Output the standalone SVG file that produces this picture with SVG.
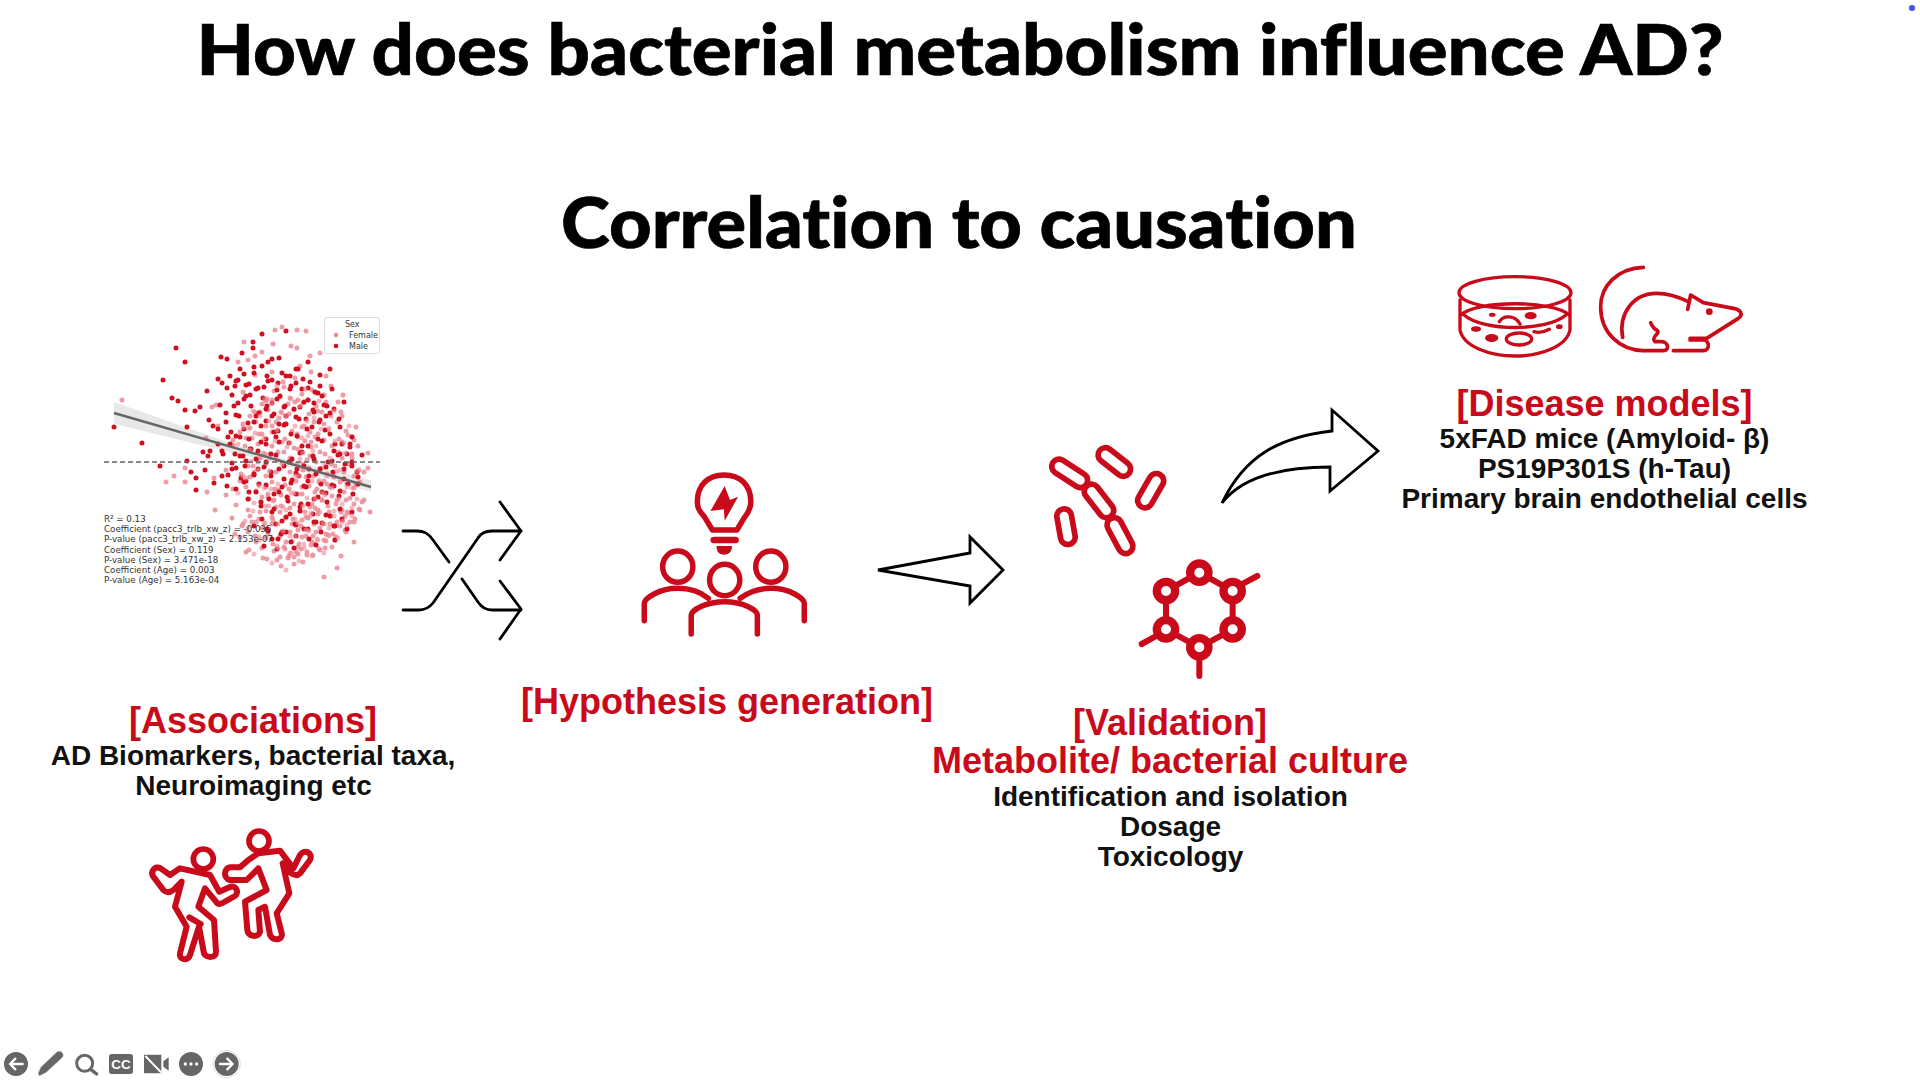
<svg xmlns="http://www.w3.org/2000/svg" width="1920" height="1080" viewBox="0 0 1920 1080">
<style>
text{font-family:"Liberation Sans",Arial,sans-serif;font-weight:700;text-anchor:middle}
.h{font-family:Lato,"Open Sans",sans-serif;font-size:71px;font-weight:900;fill:#000;stroke:#000;stroke-width:.7;font-variant-ligatures:none}
.r{font-size:36px;fill:#c90a1a}
.b{font-size:28px;fill:#111}
.s{font-family:"DejaVu Sans",sans-serif;font-weight:400;font-size:8.7px;fill:#333;text-anchor:start}
.l{font-family:"DejaVu Sans",sans-serif;font-weight:400;font-size:8px;fill:#333;text-anchor:start}
.i{fill:none;stroke:#c90a1a;stroke-linecap:round;stroke-linejoin:round}
.n{vector-effect:non-scaling-stroke;stroke-width:5.5px}
.k{fill:#fff;stroke:#000;stroke-width:2.8;stroke-linejoin:miter}
.o{fill:none;stroke:#000;stroke-width:2.8;stroke-linecap:round;stroke-linejoin:round}
.t{fill:#666}
.w{fill:none;stroke:#fff;stroke-linecap:round;stroke-linejoin:round}
.f{fill:none;stroke:#ea8c96;stroke-width:5;stroke-linecap:round;stroke-opacity:.85}
.m{fill:none;stroke:#cf1020;stroke-width:5;stroke-linecap:round}
</style>
<defs>
<path id="cf" class="f" d="M262,470h0M271,483h0M284,492h0M296,505h0M305,480h0M318,494h0M327,510h0M316,522h0M302,530h0M288,518h0M276,530h0M262,505h0M252,485h0M246,510h0M258,522h0M270,545h0M284,552h0M297,543h0M310,538h0M322,535h0M332,498h0M340,486h0M345,507h0M330,470h0M317,462h0M306,450h0M293,458h0M280,446h0M268,440h0M256,452h0M244,460h0M236,475h0M248,432h0M262,420h0M275,412h0M288,425h0M301,435h0M314,428h0M328,440h0M338,452h0M350,470h0M342,425h0M327,410h0M312,400h0M298,388h0M284,398h0M270,385h0M258,398h0M246,410h0M236,426h0M300,420h0M292,475h0M304,512h0M276,506h0M264,488h0M320,475h0M336,520h0M308,498h0M252,536h0M238,520h0M350,498h0M288,535h0"/>
<path id="cm" class="m" d="M262,440h0M270,428h0M282,420h0M293,432h0M304,442h0M316,416h0M326,430h0M338,440h0M247,445h0M236,452h0M226,440h0M240,425h0M252,412h0M263,402h0M276,392h0M290,405h0M304,396h0M318,392h0M330,405h0M242,392h0M254,384h0M268,376h0M282,372h0M294,365h0M306,378h0M230,402h0M222,418h0M250,470h0M262,458h0M275,465h0M288,455h0M300,462h0M312,470h0M324,458h0M336,450h0M348,458h0M240,478h0M252,488h0M265,495h0M278,483h0M292,490h0M304,500h0M318,488h0M330,482h0M344,480h0M258,515h0M272,520h0M286,510h0M300,525h0M312,518h0M326,512h0M338,515h0M268,535h0M282,528h0M295,472h0M270,410h0M232,464h0M218,472h0M214,440h0M258,362h0M240,370h0M226,372h0M310,408h0"/>
</defs>
<rect width="1920" height="1080" fill="#fff"/>
<circle cx="1912" cy="8" r="3" fill="#4a4ae8"/>
<g id="title"><text class="h" x="960" y="75" textLength="1527" lengthAdjust="spacingAndGlyphs">How does bacterial metabolism influence AD?</text>
<text class="h" x="959" y="248" textLength="796" lengthAdjust="spacingAndGlyphs">Correlation to causation</text></g>

<g id="scatter">
<path d="M114,402L250,450L371,480L371,492L280,464L114,424Z" fill="#e8e8e8"/>
<path class="f" d="M122,400h0M282,327h0M275,330h0M297,330h0M306,331h0M244,342h0M273,344h0M324,577h0M337,568h0M341,556h0M354,542h0M370,512h0M368,468h0M368,453h0M362,502h0M166,482h0M174,476h0M185,482h0M185,468h0M215,510h0M277,560h0M289,556h0M212,407h0M216,405h0M206,438h0M218,426h0M233,445h0M262,352h0M255,356h0M238,362h0M248,360h0M291,346h0M297,348h0M310,356h0M300,366h0M320,353h0M326,376h0M311,372h0M295,378h0M283,382h0M272,372h0M255,375h0M243,392h0M316,393h0M331,386h0M324,395h0M343,395h0M338,402h0M342,416h0M318,411h0M303,403h0M290,398h0M266,401h0M348,435h0M354,440h0M358,446h0M352,458h0M359,470h0M356,485h0M226,470h0M214,478h0M207,492h0M226,495h0M236,505h0M248,510h0M345,516h0M354,522h0M335,540h0M325,548h0M313,555h0M303,562h0M296,552h0M263,558h0M246,552h0M232,518h0M240,537h0M345,530h0M328,535h0"/>
<use href="#cf" x="4" y="6"/><use href="#cf" x="10" y="12"/><use href="#cf" x="-3" y="14"/><use href="#cf" x="14" y="2"/>
<path class="m" d="M114,427h0M142,443h0M160,466h0M176,348h0M185,362h0M163,380h0M172,398h0M178,401h0M185,410h0M195,411h0M200,407h0M207,391h0M187,427h0M187,461h0M191,472h0M196,478h0M262,334h0M286,331h0M253,342h0M330,369h0M221,357h0M227,359h0M242,353h0M253,348h0M268,362h0M279,358h0M218,379h0M227,388h0M238,380h0M246,385h0M296,383h0M308,388h0M320,386h0M213,426h0M203,452h0M208,456h0M196,490h0M205,470h0M209,420h0M220,405h0M232,395h0M358,484h0M350,444h0M352,466h0M335,540h0M316,545h0M294,548h0"/>
<use href="#cm" x="4" y="4"/><use href="#cm" x="-4" y="11"/><use href="#cm" x="9" y="14"/><use href="#cm" x="14" y="-3"/>
<use href="#cf" x="7" y="1" opacity=".7"/><use href="#cf" x="2" y="18" opacity=".7"/>
<path d="M114,413L371,487" stroke="#666" stroke-width="2.4"/>
<path d="M104,462H380" stroke="#666" stroke-width="1.5" stroke-dasharray="5 3" fill="none"/>
<rect x="324.500" y="317.500" width="55" height="36" rx="2" fill="#fff" fill-opacity=".85" stroke="#ddd"/>
<text class="l" x="345" y="327">Sex</text>
<circle cx="336" cy="335" r="2.3" fill="#ea8c96"/><text class="l" x="349" y="338">Female</text>
<circle cx="336" cy="346" r="2.3" fill="#cf1020"/><text class="l" x="349" y="349">Male</text>
<text class="s" x="104" y="522">R² = 0.13</text>
<text class="s" x="104" y="532">Coefficient (pacc3_trlb_xw_z) = -0.035</text>
<text class="s" x="104" y="542">P-value (pacc3_trlb_xw_z) = 2.153e-07</text>
<text class="s" x="104" y="553">Coefficient (Sex) = 0.119</text>
<text class="s" x="104" y="563">P-value (Sex) = 3.471e-18</text>
<text class="s" x="104" y="573">Coefficient (Age) = 0.003</text>
<text class="s" x="104" y="583">P-value (Age) = 5.163e-04</text>
</g>

<g id="connectors">
<path class="o" d="M403,531H417C424,531 428,533 433,540L449,562"/>
<path class="o" d="M403,610H419C425,610 429,608 433,603L478,538C481,533 486,531 492,531H521"/>
<path class="o" d="M462,579L478,602C482,608 486,610 492,610H521"/>
<path class="o" stroke-width="2.4" d="M500,502L521,531L500,560M500,581L521,609L500,639"/>
<path class="k" d="M878,570L970,553V537L1003,570L970,603V586Z"/>
<path class="k" d="M1222,503C1245,455 1280,437 1332,431V410L1378,451L1330,491V467C1290,467 1245,473 1222,503Z"/>
</g>

<g id="associations">
<text class="r" x="253" y="733">[Associations]</text>
<text class="b" x="253" y="765">AD Biomarkers, bacterial taxa,</text>
<text class="b" x="253.500" y="795">Neuroimaging etc</text>
<g transform="translate(130 810) scale(.33333)">
<circle class="i" cx="220" cy="147" r="30" stroke-width="17"/>
<circle class="i" cx="387" cy="93" r="30" stroke-width="17"/>
<path class="i" stroke-width="18" d="M150,175L120,195L92,175C75,165 60,185 70,200L100,240C110,250 120,248 130,240L155,215L135,290L170,350L150,430C145,450 175,455 180,435L207,350L222,430C228,445 260,445 258,425L252,330L205,290L225,235L258,275C265,285 275,282 285,275L315,258C330,245 315,222 298,232L268,245L240,195Z"/>
<path class="i" stroke-width="18" d="M178,322L212,342"/>
<path class="i" stroke-width="18" d="M355,150L385,130L450,122L490,175L510,135C525,115 550,130 540,150L510,190C500,200 490,195 480,188L458,160L478,250L440,310L455,370C460,390 430,395 420,375L405,290L385,300L390,365C385,385 355,380 352,360L345,275L410,240L385,175L350,210H300C280,205 280,175 300,172H330Z"/>
</g></g>

<g id="hypothesis">
<text class="r" x="727" y="714">[Hypothesis generation]</text>
<g transform="translate(390 450) scale(.40816 .33333)">
<path class="i n" d="M790,240L770,200C755,180 753,170 753,155C753,105 780,75 818,75C858,75 884,105 884,155C884,170 880,185 868,203L850,240Z"/>
<path d="M820,108L833,150L853,140L820,212L818,178L785,183Z" fill="#c90a1a"/>
<rect x="785" y="260" width="70" height="20" rx="10" fill="#c90a1a"/>
<path d="M800,288H838C838,305 830,314 818,314C806,314 800,305 800,288Z" fill="#c90a1a"/>
<ellipse class="i n" cx="705" cy="350" rx="37" ry="47"/>
<ellipse class="i n" cx="820" cy="390" rx="37" ry="47"/>
<ellipse class="i n" cx="933" cy="350" rx="37" ry="47"/>
<path class="i n" stroke-linecap="butt" d="M623,512V460C623,445 660,415 705,415C735,415 760,425 780,445"/>
<path class="i n" stroke-linecap="butt" d="M1015,512V460C1015,445 980,415 933,415C905,415 880,425 858,445"/>
<path class="i n" stroke-linecap="butt" d="M738,552V495C738,480 775,455 820,455C865,455 900,480 900,495V552"/>
</g></g>

<g id="validation">
<text class="r" x="1170" y="735">[Validation]</text>
<text class="r" x="1170" y="773">Metabolite/ bacterial culture</text>
<text class="b" x="1170.500" y="806">Identification and isolation</text>
<text class="b" x="1170.500" y="836">Dosage</text>
<text class="b" x="1170.500" y="866">Toxicology</text>
<g transform="translate(1030 420) scale(.33333)">
<g class="i" stroke-width="17">
<rect x="-60" y="-22" width="120" height="44" rx="22" transform="translate(119 160) rotate(33)"/>
<rect x="-56" y="-22" width="112" height="44" rx="22" transform="translate(253 126) rotate(38)"/>
<rect x="-56" y="-22" width="112" height="44" rx="22" transform="translate(362 212) rotate(-60)"/>
<rect x="-54" y="-22" width="108" height="44" rx="22" transform="translate(108 320) rotate(80)"/>
<rect x="-58" y="-22" width="116" height="44" rx="22" transform="translate(207 243) rotate(52)"/>
<rect x="-58" y="-22" width="116" height="44" rx="22" transform="translate(270 347) rotate(62)"/>
</g>
<g class="i">
<path stroke-width="18" d="M508,458L608,513V628L508,682L408,628V513Z"/>
<path stroke-width="18" d="M640,490L682,468M375,650L335,672M508,720V768"/>
<g stroke-width="25">
<circle cx="508" cy="458" r="27.500" fill="#fff"/><circle cx="608" cy="513" r="27.500" fill="#fff"/><circle cx="608" cy="628" r="27.500" fill="#fff"/><circle cx="508" cy="682" r="27.500" fill="#fff"/><circle cx="408" cy="628" r="27.500" fill="#fff"/><circle cx="408" cy="513" r="27.500" fill="#fff"/>
</g></g>
</g></g>

<g id="models">
<text class="r" x="1604.500" y="416">[Disease models]</text>
<text class="b" x="1604.500" y="448">5xFAD mice (Amyloid- β)</text>
<text class="b" x="1604.500" y="478">PS19P301S (h-Tau)</text>
<text class="b" x="1604.500" y="508">Primary brain endothelial cells</text>
<g transform="translate(1440 250) scale(.33333)">
<g class="i" stroke-width="10">
<ellipse cx="225" cy="128" rx="168" ry="48"/>
<path d="M62,195C110,150 340,150 388,195"/>
<path d="M72,195C130,245 320,245 378,195"/>
<path d="M60,150V240C70,290 150,318 225,318C300,318 380,290 390,240V150"/>
<path d="M178,215C190,195 225,195 240,222M282,245C300,250 315,245 328,238"/>
<ellipse cx="237" cy="267" rx="38" ry="18"/>
</g>
<g fill="#c90a1a"><ellipse cx="157" cy="194" rx="10" ry="6"/><ellipse cx="272" cy="197" rx="18" ry="11"/><ellipse cx="108" cy="237" rx="15" ry="8"/><ellipse cx="155" cy="264" rx="20" ry="12"/><ellipse cx="358" cy="230" rx="10" ry="7"/><circle cx="808" cy="185" r="10"/></g>
<path class="i" stroke-width="11" d="M610,52C530,55 482,110 482,170C482,250 540,300 610,302H670C690,302 685,275 665,275H645C630,260 665,250 650,240C640,235 635,225 632,218"/>
<path class="i" stroke-width="11" d="M548,262C535,190 580,130 650,130C680,130 715,140 745,155M743,178L752,135L790,158L880,175C905,180 910,195 895,205L800,265H750M750,270H790C810,272 810,302 790,302H700"/>
</g></g>

<g id="toolbar" transform="translate(0 1040) scale(.33333)">
<circle class="t" cx="48" cy="72" r="36"/><path class="w" stroke-width="7" d="M68,72H30M46,56L30,72L46,88"/>
<path class="t" stroke="#ddd" stroke-width="2" d="M114,100L122,82L170,36C176,32 184,32 188,40C192,46 190,50 186,54L138,98L118,108Z"/>
<circle cx="254" cy="70" r="24" fill="none" stroke="#666" stroke-width="9"/><path d="M272,88L290,102" stroke="#666" stroke-width="10" stroke-linecap="round"/>
<rect class="t" x="327" y="42" width="72" height="60" rx="8"/>
<text x="363" y="86" font-size="40" fill="#fff">CC</text>
<path class="t" d="M432,44H484V100H432ZM490,64L506,52V92L490,80Z"/><path d="M436,48L484,98" stroke="#fff" stroke-width="6"/>
<circle class="t" cx="573" cy="72" r="36"/><circle cx="556" cy="72" r="5" fill="#fff"/><circle cx="573" cy="72" r="5" fill="#fff"/><circle cx="590" cy="72" r="5" fill="#fff"/>
<circle class="t" cx="680" cy="72" r="36"/><circle cx="680" cy="72" r="41" fill="none" stroke="#ccc" stroke-width="2"/><path class="w" stroke-width="7" d="M660,72H698M682,56L698,72L682,88"/>
</g>
</svg>
